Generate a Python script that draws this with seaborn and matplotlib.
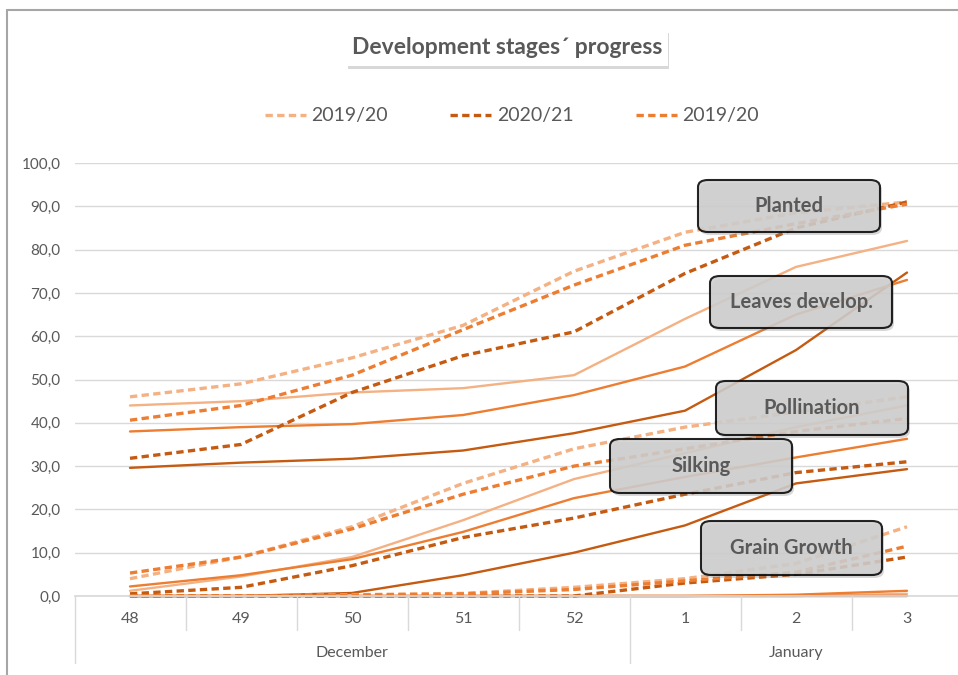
#!/usr/bin/env python3
"""Development stages progress chart (weekly, Dec-Jan)."""

import matplotlib

matplotlib.use("Agg")

import matplotlib.pyplot as plt
import numpy as np
import seaborn as sns
from matplotlib.lines import Line2D
from matplotlib.patches import FancyBboxPatch
from matplotlib.transforms import blended_transform_factory

sns.set_theme(style="white")
plt.rcParams["font.family"] = ["Lato", "DejaVu Sans"]

WEEKS = ["48", "49", "50", "51", "52", "1", "2", "3"]
MONTHS = ["December", "January"]
MONTH_SPANS = [(0, 4), (5, 7)]
SEASONS = ["2019/20", "2020/21", "2019/20"]

PLANTED_1920 = [46.0, 49.0, 55.0, 62.5, 75.0, 84.0, 88.5, 91.0]
PLANTED_2021 = [31.8, 35.0, 47.0, 55.5, 61.0, 74.5, 85.0, 91.0]
PLANTED_1920B = [40.6, 44.0, 51.0, 61.5, 71.8, 81.0, 86.0, 90.5]

LEAVES_1920 = [44.0, 45.0, 47.0, 48.0, 51.0, 64.0, 76.0, 82.0]
LEAVES_2021 = [29.6, 30.8, 31.7, 33.6, 37.6, 42.8, 56.8, 74.7]
LEAVES_1920B = [38.0, 39.0, 39.7, 41.8, 46.4, 53.0, 65.0, 73.0]

POLLIN_1920 = [4.0, 9.0, 16.0, 26.0, 34.0, 39.0, 42.5, 46.0]
POLLIN_2021 = [0.5, 2.0, 7.0, 13.5, 18.0, 23.5, 28.5, 31.0]
POLLIN_1920B = [5.3, 9.0, 15.5, 23.5, 30.0, 34.0, 38.0, 41.0]

SILKING_1920 = [1.2, 4.5, 9.0, 17.5, 27.0, 33.0, 39.0, 44.0]
SILKING_2021 = [0.0, 0.0, 0.7, 4.8, 10.0, 16.3, 26.0, 29.3]
SILKING_1920B = [2.2, 4.8, 8.5, 14.8, 22.6, 27.5, 32.0, 36.3]

GRAIN_1920 = [0.0, 0.0, 0.3, 0.6, 2.0, 4.0, 7.5, 16.0]
GRAIN_2021 = [0.0, 0.0, 0.0, 0.0, 0.0, 3.0, 5.0, 9.0]
GRAIN_1920B = [0.0, 0.0, 0.2, 0.5, 1.5, 3.5, 5.5, 11.5]

MATURITY_1920 = [0.0, 0.0, 0.0, 0.0, 0.0, 0.0, 0.0, 0.5]
MATURITY_2021 = [0.0, 0.0, 0.0, 0.0, 0.0, 0.0, 0.0, 0.0]
MATURITY_1920B = [0.0, 0.0, 0.0, 0.0, 0.0, 0.0, 0.3, 1.2]

STAGE_LABELS = ["Planted", "Leaves develop.", "Pollination", "Silking", "Grain Growth"]

LIGHT, DARK, MEDIUM = "#F4B183", "#C55A11", "#ED7D31"
COLORS = [LIGHT, DARK, MEDIUM]
GREY_TEXT = "#595959"

W, H = 958, 675


def fx(px):
    return px / W


def fy(py):
    return 1 - py / H


def shadow_box(fig, x0, y0, x1, y1, face, edge, lw, rounding, alpha=1.0,
               shadow_dx=3, shadow_dy=4, shadow_alpha=0.35, zorder=10):
    style = f"round,pad=0,rounding_size={rounding / W}"
    shadow = FancyBboxPatch(
        (fx(x0 + shadow_dx), fy(y1 + shadow_dy)), fx(x1 - x0), (y1 - y0) / H,
        boxstyle=style, transform=fig.transFigure, facecolor="#7f7f7f",
        edgecolor="none", alpha=shadow_alpha, zorder=zorder - 1,
    )
    box = FancyBboxPatch(
        (fx(x0), fy(y1)), fx(x1 - x0), (y1 - y0) / H,
        boxstyle=style, transform=fig.transFigure, facecolor=face,
        edgecolor=edge, linewidth=lw, alpha=alpha, zorder=zorder,
    )
    fig.patches.extend([shadow, box])


fig = plt.figure(figsize=(W / 100, H / 100), dpi=100)
ax = fig.add_axes([fx(74.5), fy(596), 888 / W, 433 / H])

x = np.arange(len(WEEKS))
dashed_groups = [
    [PLANTED_1920, PLANTED_2021, PLANTED_1920B],
    [POLLIN_1920, POLLIN_2021, POLLIN_1920B],
    [GRAIN_1920, GRAIN_2021, GRAIN_1920B],
]
solid_groups = [
    [LEAVES_1920, LEAVES_2021, LEAVES_1920B],
    [SILKING_1920, SILKING_2021, SILKING_1920B],
    [MATURITY_1920, MATURITY_2021, MATURITY_1920B],
]

for group in solid_groups:
    for values, color in zip(group, COLORS):
        sns.lineplot(x=x, y=values, ax=ax, color=color, linewidth=1.7,
                     clip_on=False)
for group in dashed_groups:
    for values, color in zip(group, COLORS):
        sns.lineplot(x=x, y=values, ax=ax, color=color, linewidth=2.4,
                     clip_on=False)
        ax.lines[-1].set_dashes([2.2, 1.3])

ax.set_xlim(-0.5, 7.5)
ax.set_ylim(0, 100)
ax.set_yticks(np.arange(0, 101, 10))
ax.set_yticklabels([f"{v:.1f}".replace(".", ",") for v in np.arange(0, 101, 10)])
ax.tick_params(axis="y", length=0, pad=10, labelsize=11, labelcolor=GREY_TEXT)
ax.set_xticks([])
ax.grid(axis="y", color="#D9D9D9", linewidth=1)
for side in ["top", "right", "left"]:
    ax.spines[side].set_visible(False)
ax.spines["bottom"].set_color("#D9D9D9")
ax.set_xlabel("")
ax.set_ylabel("")

# two-level category axis
trans = blended_transform_factory(ax.transData, ax.transAxes)
for i, week in enumerate(WEEKS):
    ax.text(i, -23 / 433, week, transform=trans, ha="center", va="center",
            fontsize=11.5, color=GREY_TEXT)
for b in np.arange(0.5, 7, 1):
    if b == 4.5:
        continue
    ax.plot([b, b], [0, -34 / 433], transform=trans, color="#D9D9D9",
            linewidth=1, clip_on=False)
for b in [-0.5, 4.5, 7.5]:
    ax.plot([b, b], [0, -67 / 433], transform=trans, color="#D9D9D9",
            linewidth=1, clip_on=False)
for month, (a, b) in zip(MONTHS, MONTH_SPANS):
    ax.text((a + b) / 2, -57 / 433, month, transform=trans, ha="center",
            va="center", fontsize=11.5, color=GREY_TEXT)

# legend
handles = [Line2D([0], [0], color=c, linewidth=2.4, dashes=[2.2, 1.3]) for c in COLORS]
fig.legend(handles, SEASONS, loc="center", bbox_to_anchor=(fx(512), fy(116)),
           ncol=3, frameon=False, fontsize=14, labelcolor=GREY_TEXT,
           handlelength=2.1, handletextpad=0.3, columnspacing=3.2)

# title box
shadow_box(fig, 347, 30, 668, 66, "white", "none", 0, 0.5,
           shadow_dx=1, shadow_dy=3, shadow_alpha=0.3)
fig.text(fx(507.5), fy(48), "Development stages\u00b4 progress", ha="center",
         va="center", fontsize=16.5, fontweight="bold", color=GREY_TEXT, zorder=12)

# stage label boxes
label_boxes = [
    (698, 180, 880, 232),
    (710, 276, 892, 328),
    (716, 381, 908, 435),
    (610, 439, 792, 493),
    (701, 521, 882, 575),
]
for label, (x0, y0, x1, y1) in zip(STAGE_LABELS, label_boxes):
    shadow_box(fig, x0, y0, x1, y1, "#CFCFCF", "black", 1.5, 10, alpha=0.85,
               shadow_dx=2, shadow_dy=3, shadow_alpha=0.3)
    fig.text(fx((x0 + x1) / 2), fy((y0 + y1) / 2), label, ha="center",
             va="center", fontsize=14.5, fontweight="bold", color=GREY_TEXT,
             zorder=12)

# outer chart border (top and left edges visible in the crop)
fig.add_artist(Line2D([fx(7), fx(7)], [fy(10), fy(675)], transform=fig.transFigure,
                      color="#A6A6A6", linewidth=1.5))
fig.add_artist(Line2D([fx(7), fx(958)], [fy(10), fy(10)], transform=fig.transFigure,
                      color="#A6A6A6", linewidth=1.5))

fig.savefig("out.png", dpi=100)
